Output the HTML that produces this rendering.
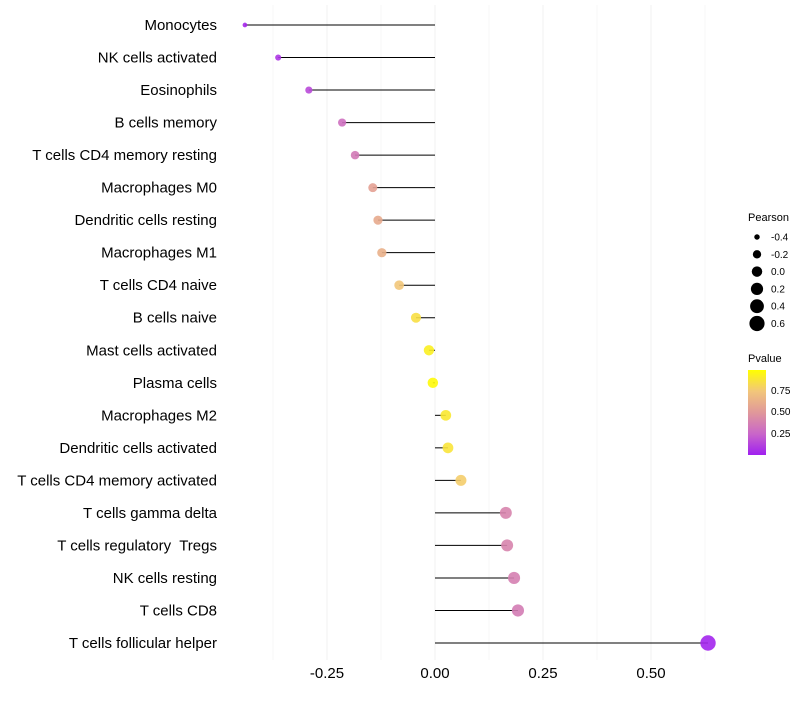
<!DOCTYPE html>
<html><head><meta charset="utf-8"><style>
body{margin:0;background:#fff;font-family:"Liberation Sans",sans-serif}
text{white-space:pre}
</style></head><body>
<svg id="c" width="800" height="700" xmlns="http://www.w3.org/2000/svg">
<defs><linearGradient id="pg" x1="0" y1="1" x2="0" y2="0">
<stop offset="0" stop-color="#a020f0"/><stop offset="0.25" stop-color="#c966c9"/><stop offset="0.5" stop-color="#e0989a"/><stop offset="0.75" stop-color="#f2c67a"/><stop offset="1" stop-color="#ffff00"/></linearGradient></defs>
<g id="grid"></g><g id="marks"></g><g id="labels"></g><g id="xt"></g>
<g font-size="10">
<text x="748" y="221" font-size="11">Pearson</text>
<g id="sizeleg"></g>
</g>
<g font-size="10">
<text x="748" y="362" font-size="11">Pvalue</text>
<rect x="748" y="370" width="18" height="85" fill="url(#pg)"/>
<text x="771" y="394">0.75</text><text x="771" y="415">0.50</text><text x="771" y="437">0.25</text>
</g>
</svg>
<script>
const cells=["Monocytes","NK cells activated","Eosinophils","B cells memory","T cells CD4 memory resting","Macrophages M0","Dendritic cells resting","Macrophages M1","T cells CD4 naive","B cells naive","Mast cells activated","Plasma cells","Macrophages M2","Dendritic cells activated","T cells CD4 memory activated","T cells gamma delta","T cells regulatory  Tregs","NK cells resting","T cells CD8","T cells follicular helper"];
const pearson=[-0.44,-0.363,-0.292,-0.215,-0.185,-0.144,-0.132,-0.123,-0.083,-0.044,-0.014,-0.005,0.025,0.03,0.06,0.164,0.167,0.183,0.192,0.632];
const pvalue=[0.03,0.08,0.15,0.3,0.35,0.55,0.6,0.63,0.75,0.86,0.93,0.98,0.9,0.88,0.78,0.4,0.4,0.38,0.36,0.02];
const xTicks=[-0.25,0,0.25,0.5];
const xTickLabels=["-0.25","0.00","0.25","0.50"];
const sizeLegend=[-0.4,-0.2,0,0.2,0.4,0.6];
const ns="http://www.w3.org/2000/svg";
const X=v=>435+v*432;
const Y=i=>25+i*(618/19);
const R=v=>Math.sqrt(5+(v+0.45)*50);
const stops=[[0,[160,32,240]],[0.25,[201,102,201]],[0.5,[224,152,154]],[0.75,[242,198,122]],[1,[255,255,0]]];
function col(p){for(let i=1;i<stops.length;i++){if(p<=stops[i][0]){const a=stops[i-1],b=stops[i],t=(p-a[0])/(b[0]-a[0]);return 'rgb('+a[1].map((c,k)=>Math.round(c+(b[1][k]-c)*t)).join(',')+')';}}return 'rgb(255,255,0)';}
function mk(t,a,p){const e=document.createElementNS(ns,t);for(const k in a)e.setAttribute(k,a[k]);p.appendChild(e);return e;}
const g=document.getElementById('grid');
for(let v=-0.375;v<=0.64;v+=0.125){const l=mk('line',{x1:X(v),x2:X(v),y1:5,y2:660,stroke:'#f2f2f2','stroke-width':Number.isInteger(v*4)?1:0.6},g);

}
const m=document.getElementById('marks'),lb=document.getElementById('labels'),xt=document.getElementById('xt');
cells.forEach((c,i)=>{
const s=mk('line',{x1:X(0),x2:X(pearson[i]),y1:Y(i),y2:Y(i),stroke:'#000','stroke-width':1},m);


const d=mk('circle',{cx:X(pearson[i]),cy:Y(i),r:R(pearson[i]),fill:col(pvalue[i]),'fill-opacity':0.9},m);


const t=mk('text',{x:217,y:Y(i)+5,'text-anchor':'end','font-size':15,fill:'#000'},lb);t.textContent=c;


});
xTicks.forEach((v,i)=>{const t=mk('text',{x:X(v),y:678,'text-anchor':'middle','font-size':15,fill:'#000'},xt);t.textContent=xTickLabels[i];

});
const sl=document.getElementById('sizeleg');
sizeLegend.forEach((v,i)=>{const y=237+i*17.3;
const c=mk('circle',{cx:757,cy:y,r:R(v),fill:'#000'},sl);


const t=mk('text',{x:771,y:y+3.5},sl);t.textContent=v.toFixed(1);

});
</script>
</body></html>
